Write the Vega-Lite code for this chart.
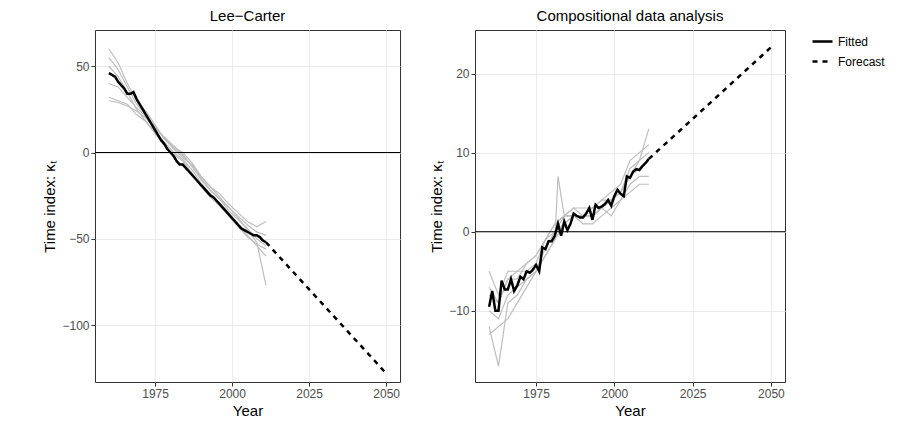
{
  "$schema": "https://vega.github.io/schema/vega-lite/v6.json",
  "padding": {"left": 42, "top": 8, "right": 0, "bottom": 5},
  "config": {
    "font": "Liberation Sans",
    "view": {"stroke": "#333333", "strokeWidth": 1},
    "axis": {"gridColor": "#ebebeb", "domain": false, "tickColor": "#333333", "tickSize": 4, "labelColor": "#4d4d4d", "labelFontSize": 12, "titleFontSize": 15, "titleFontWeight": "normal", "titleColor": "#000000"},
    "title": {"fontSize": 15, "fontWeight": "normal", "anchor": "middle", "offset": 6},
    "legend": {"labelFontSize": 12, "title": null, "symbolStrokeWidth": 2.5, "symbolSize": 400, "symbolType": "stroke", "symbolStrokeColor": "black", "offset": 25}
  },
  "datasets": {
    "fit": [
      {"p":"L","x":1960,"v":46,"t":"Fitted"},{"p":"L","x":1961,"v":45,"t":"Fitted"},{"p":"L","x":1962,"v":44,"t":"Fitted"},{"p":"L","x":1963,"v":41,"t":"Fitted"},{"p":"L","x":1964,"v":39,"t":"Fitted"},{"p":"L","x":1965,"v":37,"t":"Fitted"},{"p":"L","x":1966,"v":34,"t":"Fitted"},{"p":"L","x":1967,"v":34,"t":"Fitted"},{"p":"L","x":1968,"v":35,"t":"Fitted"},{"p":"L","x":1969,"v":31,"t":"Fitted"},{"p":"L","x":1970,"v":28,"t":"Fitted"},{"p":"L","x":1971,"v":25,"t":"Fitted"},{"p":"L","x":1972,"v":22,"t":"Fitted"},{"p":"L","x":1973,"v":19,"t":"Fitted"},{"p":"L","x":1974,"v":16,"t":"Fitted"},{"p":"L","x":1975,"v":13,"t":"Fitted"},{"p":"L","x":1976,"v":10,"t":"Fitted"},{"p":"L","x":1977,"v":7,"t":"Fitted"},{"p":"L","x":1978,"v":5,"t":"Fitted"},{"p":"L","x":1979,"v":2,"t":"Fitted"},{"p":"L","x":1980,"v":0,"t":"Fitted"},{"p":"L","x":1981,"v":-2,"t":"Fitted"},{"p":"L","x":1982,"v":-5,"t":"Fitted"},{"p":"L","x":1983,"v":-7,"t":"Fitted"},{"p":"L","x":1984,"v":-7,"t":"Fitted"},{"p":"L","x":1985,"v":-9,"t":"Fitted"},{"p":"L","x":1986,"v":-11,"t":"Fitted"},{"p":"L","x":1987,"v":-13,"t":"Fitted"},{"p":"L","x":1988,"v":-15,"t":"Fitted"},{"p":"L","x":1989,"v":-17,"t":"Fitted"},{"p":"L","x":1990,"v":-19,"t":"Fitted"},{"p":"L","x":1991,"v":-21,"t":"Fitted"},{"p":"L","x":1992,"v":-23,"t":"Fitted"},{"p":"L","x":1993,"v":-25,"t":"Fitted"},{"p":"L","x":1994,"v":-26,"t":"Fitted"},{"p":"L","x":1995,"v":-28,"t":"Fitted"},{"p":"L","x":1996,"v":-30,"t":"Fitted"},{"p":"L","x":1997,"v":-32,"t":"Fitted"},{"p":"L","x":1998,"v":-34,"t":"Fitted"},{"p":"L","x":1999,"v":-36,"t":"Fitted"},{"p":"L","x":2000,"v":-38,"t":"Fitted"},{"p":"L","x":2001,"v":-40,"t":"Fitted"},{"p":"L","x":2002,"v":-42,"t":"Fitted"},{"p":"L","x":2003,"v":-44,"t":"Fitted"},{"p":"L","x":2004,"v":-45,"t":"Fitted"},{"p":"L","x":2005,"v":-46,"t":"Fitted"},{"p":"L","x":2006,"v":-47,"t":"Fitted"},{"p":"L","x":2007,"v":-48,"t":"Fitted"},{"p":"L","x":2008,"v":-48,"t":"Fitted"},{"p":"L","x":2009,"v":-49,"t":"Fitted"},{"p":"L","x":2010,"v":-51,"t":"Fitted"},{"p":"L","x":2011,"v":-52,"t":"Fitted"},
      {"p":"L","x":2011,"v":-52,"t":"Forecast"},{"p":"L","x":2050,"v":-128,"t":"Forecast"},
      {"p":"R","x":1960,"v":-9.5,"t":"Fitted"},{"p":"R","x":1961,"v":-7.5,"t":"Fitted"},{"p":"R","x":1962,"v":-10,"t":"Fitted"},{"p":"R","x":1963,"v":-10,"t":"Fitted"},{"p":"R","x":1964,"v":-6.2,"t":"Fitted"},{"p":"R","x":1965,"v":-7.3,"t":"Fitted"},{"p":"R","x":1966,"v":-7.3,"t":"Fitted"},{"p":"R","x":1967,"v":-6,"t":"Fitted"},{"p":"R","x":1968,"v":-7.5,"t":"Fitted"},{"p":"R","x":1969,"v":-6.8,"t":"Fitted"},{"p":"R","x":1970,"v":-5.7,"t":"Fitted"},{"p":"R","x":1971,"v":-6,"t":"Fitted"},{"p":"R","x":1972,"v":-5,"t":"Fitted"},{"p":"R","x":1973,"v":-5.2,"t":"Fitted"},{"p":"R","x":1974,"v":-4.8,"t":"Fitted"},{"p":"R","x":1975,"v":-4.2,"t":"Fitted"},{"p":"R","x":1976,"v":-5,"t":"Fitted"},{"p":"R","x":1977,"v":-2,"t":"Fitted"},{"p":"R","x":1978,"v":-2.2,"t":"Fitted"},{"p":"R","x":1979,"v":-1.2,"t":"Fitted"},{"p":"R","x":1980,"v":-1.2,"t":"Fitted"},{"p":"R","x":1981,"v":-0.5,"t":"Fitted"},{"p":"R","x":1982,"v":1,"t":"Fitted"},{"p":"R","x":1983,"v":-0.5,"t":"Fitted"},{"p":"R","x":1984,"v":1.3,"t":"Fitted"},{"p":"R","x":1985,"v":0.2,"t":"Fitted"},{"p":"R","x":1986,"v":1,"t":"Fitted"},{"p":"R","x":1987,"v":2.3,"t":"Fitted"},{"p":"R","x":1988,"v":2,"t":"Fitted"},{"p":"R","x":1989,"v":1.8,"t":"Fitted"},{"p":"R","x":1990,"v":1.8,"t":"Fitted"},{"p":"R","x":1991,"v":2.3,"t":"Fitted"},{"p":"R","x":1992,"v":3,"t":"Fitted"},{"p":"R","x":1993,"v":1.5,"t":"Fitted"},{"p":"R","x":1994,"v":3.4,"t":"Fitted"},{"p":"R","x":1995,"v":3,"t":"Fitted"},{"p":"R","x":1996,"v":3.2,"t":"Fitted"},{"p":"R","x":1997,"v":3.5,"t":"Fitted"},{"p":"R","x":1998,"v":4,"t":"Fitted"},{"p":"R","x":1999,"v":3.3,"t":"Fitted"},{"p":"R","x":2000,"v":4.5,"t":"Fitted"},{"p":"R","x":2001,"v":5.3,"t":"Fitted"},{"p":"R","x":2002,"v":4.8,"t":"Fitted"},{"p":"R","x":2003,"v":4.5,"t":"Fitted"},{"p":"R","x":2004,"v":7,"t":"Fitted"},{"p":"R","x":2005,"v":6.8,"t":"Fitted"},{"p":"R","x":2006,"v":7.6,"t":"Fitted"},{"p":"R","x":2007,"v":7.9,"t":"Fitted"},{"p":"R","x":2008,"v":7.8,"t":"Fitted"},{"p":"R","x":2009,"v":8.3,"t":"Fitted"},{"p":"R","x":2010,"v":8.7,"t":"Fitted"},{"p":"R","x":2011,"v":9.2,"t":"Fitted"},
      {"p":"R","x":2011,"v":9.2,"t":"Forecast"},{"p":"R","x":2050,"v":23.3,"t":"Forecast"}
    ],
    "grey": [
      {"p":"L","s":1,"x":1960,"v":60},{"p":"L","s":1,"x":1963,"v":52},{"p":"L","s":1,"x":1966,"v":40},{"p":"L","s":1,"x":1969,"v":30},{"p":"L","s":1,"x":1972,"v":24},{"p":"L","s":1,"x":1975,"v":16},{"p":"L","s":1,"x":1978,"v":8},{"p":"L","s":1,"x":1981,"v":3},{"p":"L","s":1,"x":1984,"v":0},{"p":"L","s":1,"x":1987,"v":-6},{"p":"L","s":1,"x":1990,"v":-14},{"p":"L","s":1,"x":1993,"v":-20},{"p":"L","s":1,"x":1996,"v":-24},{"p":"L","s":1,"x":1999,"v":-30},{"p":"L","s":1,"x":2002,"v":-35},{"p":"L","s":1,"x":2005,"v":-40},{"p":"L","s":1,"x":2008,"v":-43},{"p":"L","s":1,"x":2011,"v":-40},
      {"p":"L","s":2,"x":1960,"v":32},{"p":"L","s":2,"x":1963,"v":30},{"p":"L","s":2,"x":1966,"v":28},{"p":"L","s":2,"x":1969,"v":22},{"p":"L","s":2,"x":1972,"v":18},{"p":"L","s":2,"x":1975,"v":12},{"p":"L","s":2,"x":1978,"v":6},{"p":"L","s":2,"x":1981,"v":0},{"p":"L","s":2,"x":1984,"v":-4},{"p":"L","s":2,"x":1987,"v":-10},{"p":"L","s":2,"x":1990,"v":-18},{"p":"L","s":2,"x":1993,"v":-24},{"p":"L","s":2,"x":1996,"v":-30},{"p":"L","s":2,"x":1999,"v":-36},{"p":"L","s":2,"x":2002,"v":-42},{"p":"L","s":2,"x":2005,"v":-48},{"p":"L","s":2,"x":2008,"v":-54},{"p":"L","s":2,"x":2011,"v":-60},
      {"p":"L","s":3,"x":1960,"v":55},{"p":"L","s":3,"x":1963,"v":48},{"p":"L","s":3,"x":1966,"v":38},{"p":"L","s":3,"x":1969,"v":28},{"p":"L","s":3,"x":1972,"v":22},{"p":"L","s":3,"x":1975,"v":14},{"p":"L","s":3,"x":1978,"v":9},{"p":"L","s":3,"x":1981,"v":4},{"p":"L","s":3,"x":1984,"v":-1},{"p":"L","s":3,"x":1987,"v":-8},{"p":"L","s":3,"x":1990,"v":-15},{"p":"L","s":3,"x":1993,"v":-22},{"p":"L","s":3,"x":1996,"v":-27},{"p":"L","s":3,"x":1999,"v":-32},{"p":"L","s":3,"x":2002,"v":-38},{"p":"L","s":3,"x":2005,"v":-45},{"p":"L","s":3,"x":2008,"v":-52},{"p":"L","s":3,"x":2011,"v":-77},
      {"p":"L","s":4,"x":1960,"v":30},{"p":"L","s":4,"x":1963,"v":29},{"p":"L","s":4,"x":1966,"v":27},{"p":"L","s":4,"x":1969,"v":24},{"p":"L","s":4,"x":1972,"v":20},{"p":"L","s":4,"x":1975,"v":15},{"p":"L","s":4,"x":1978,"v":8},{"p":"L","s":4,"x":1981,"v":2},{"p":"L","s":4,"x":1984,"v":-3},{"p":"L","s":4,"x":1987,"v":-7},{"p":"L","s":4,"x":1990,"v":-14},{"p":"L","s":4,"x":1993,"v":-20},{"p":"L","s":4,"x":1996,"v":-26},{"p":"L","s":4,"x":1999,"v":-32},{"p":"L","s":4,"x":2002,"v":-37},{"p":"L","s":4,"x":2005,"v":-42},{"p":"L","s":4,"x":2008,"v":-46},{"p":"L","s":4,"x":2011,"v":-48},
      {"p":"L","s":5,"x":1960,"v":50},{"p":"L","s":5,"x":1963,"v":44},{"p":"L","s":5,"x":1966,"v":35},{"p":"L","s":5,"x":1969,"v":25},{"p":"L","s":5,"x":1972,"v":18},{"p":"L","s":5,"x":1975,"v":11},{"p":"L","s":5,"x":1978,"v":4},{"p":"L","s":5,"x":1981,"v":-1},{"p":"L","s":5,"x":1984,"v":-5},{"p":"L","s":5,"x":1987,"v":-12},{"p":"L","s":5,"x":1990,"v":-20},{"p":"L","s":5,"x":1993,"v":-26},{"p":"L","s":5,"x":1996,"v":-31},{"p":"L","s":5,"x":1999,"v":-37},{"p":"L","s":5,"x":2002,"v":-43},{"p":"L","s":5,"x":2005,"v":-49},{"p":"L","s":5,"x":2008,"v":-53},{"p":"L","s":5,"x":2011,"v":-56},
      {"p":"L","s":6,"x":1960,"v":40},{"p":"L","s":6,"x":1963,"v":38},{"p":"L","s":6,"x":1966,"v":32},{"p":"L","s":6,"x":1969,"v":26},{"p":"L","s":6,"x":1972,"v":21},{"p":"L","s":6,"x":1975,"v":15},{"p":"L","s":6,"x":1978,"v":8},{"p":"L","s":6,"x":1981,"v":3},{"p":"L","s":6,"x":1984,"v":-2},{"p":"L","s":6,"x":1987,"v":-8},{"p":"L","s":6,"x":1990,"v":-16},{"p":"L","s":6,"x":1993,"v":-22},{"p":"L","s":6,"x":1996,"v":-27},{"p":"L","s":6,"x":1999,"v":-34},{"p":"L","s":6,"x":2002,"v":-39},{"p":"L","s":6,"x":2005,"v":-44},{"p":"L","s":6,"x":2008,"v":-50},{"p":"L","s":6,"x":2011,"v":-54},
      {"p":"R","s":1,"x":1960,"v":-12},{"p":"R","s":1,"x":1963,"v":-17},{"p":"R","s":1,"x":1966,"v":-9},{"p":"R","s":1,"x":1969,"v":-8},{"p":"R","s":1,"x":1972,"v":-6},{"p":"R","s":1,"x":1975,"v":-5},{"p":"R","s":1,"x":1978,"v":-2},{"p":"R","s":1,"x":1981,"v":0},{"p":"R","s":1,"x":1984,"v":2},{"p":"R","s":1,"x":1987,"v":3},{"p":"R","s":1,"x":1990,"v":2},{"p":"R","s":1,"x":1993,"v":2},{"p":"R","s":1,"x":1996,"v":3},{"p":"R","s":1,"x":1999,"v":4},{"p":"R","s":1,"x":2002,"v":5},{"p":"R","s":1,"x":2005,"v":7},{"p":"R","s":1,"x":2008,"v":9},{"p":"R","s":1,"x":2011,"v":13},
      {"p":"R","s":2,"x":1960,"v":-5},{"p":"R","s":2,"x":1963,"v":-8},{"p":"R","s":2,"x":1966,"v":-5},{"p":"R","s":2,"x":1969,"v":-5},{"p":"R","s":2,"x":1972,"v":-4},{"p":"R","s":2,"x":1975,"v":-3},{"p":"R","s":2,"x":1978,"v":-1},{"p":"R","s":2,"x":1981,"v":1},{"p":"R","s":2,"x":1984,"v":2},{"p":"R","s":2,"x":1987,"v":2},{"p":"R","s":2,"x":1990,"v":2},{"p":"R","s":2,"x":1993,"v":3},{"p":"R","s":2,"x":1996,"v":4},{"p":"R","s":2,"x":1999,"v":4},{"p":"R","s":2,"x":2002,"v":5},{"p":"R","s":2,"x":2005,"v":8},{"p":"R","s":2,"x":2008,"v":9},{"p":"R","s":2,"x":2011,"v":10},
      {"p":"R","s":3,"x":1960,"v":-13},{"p":"R","s":3,"x":1963,"v":-12},{"p":"R","s":3,"x":1966,"v":-11},{"p":"R","s":3,"x":1969,"v":-9},{"p":"R","s":3,"x":1972,"v":-7},{"p":"R","s":3,"x":1975,"v":-5},{"p":"R","s":3,"x":1978,"v":-3},{"p":"R","s":3,"x":1981,"v":-1},{"p":"R","s":3,"x":1982,"v":7},{"p":"R","s":3,"x":1984,"v":2},{"p":"R","s":3,"x":1987,"v":2},{"p":"R","s":3,"x":1990,"v":1},{"p":"R","s":3,"x":1993,"v":1},{"p":"R","s":3,"x":1996,"v":2},{"p":"R","s":3,"x":1999,"v":3},{"p":"R","s":3,"x":2002,"v":4},{"p":"R","s":3,"x":2005,"v":6},{"p":"R","s":3,"x":2008,"v":7},{"p":"R","s":3,"x":2011,"v":7},
      {"p":"R","s":4,"x":1960,"v":-7},{"p":"R","s":4,"x":1963,"v":-9},{"p":"R","s":4,"x":1966,"v":-6},{"p":"R","s":4,"x":1969,"v":-6},{"p":"R","s":4,"x":1972,"v":-4},{"p":"R","s":4,"x":1975,"v":-3},{"p":"R","s":4,"x":1978,"v":-1},{"p":"R","s":4,"x":1981,"v":0},{"p":"R","s":4,"x":1984,"v":1},{"p":"R","s":4,"x":1987,"v":2},{"p":"R","s":4,"x":1990,"v":2},{"p":"R","s":4,"x":1993,"v":2},{"p":"R","s":4,"x":1996,"v":3},{"p":"R","s":4,"x":1999,"v":2},{"p":"R","s":4,"x":2002,"v":4},{"p":"R","s":4,"x":2005,"v":5},{"p":"R","s":4,"x":2008,"v":6},{"p":"R","s":4,"x":2011,"v":6},
      {"p":"R","s":5,"x":1960,"v":-10},{"p":"R","s":5,"x":1963,"v":-11},{"p":"R","s":5,"x":1966,"v":-8},{"p":"R","s":5,"x":1969,"v":-7},{"p":"R","s":5,"x":1972,"v":-6},{"p":"R","s":5,"x":1975,"v":-5},{"p":"R","s":5,"x":1978,"v":-3},{"p":"R","s":5,"x":1981,"v":-1},{"p":"R","s":5,"x":1984,"v":1},{"p":"R","s":5,"x":1987,"v":2},{"p":"R","s":5,"x":1990,"v":2},{"p":"R","s":5,"x":1993,"v":2},{"p":"R","s":5,"x":1996,"v":3},{"p":"R","s":5,"x":1999,"v":4},{"p":"R","s":5,"x":2002,"v":5},{"p":"R","s":5,"x":2005,"v":7},{"p":"R","s":5,"x":2008,"v":8},{"p":"R","s":5,"x":2011,"v":9},
      {"p":"R","s":6,"x":1960,"v":-8},{"p":"R","s":6,"x":1963,"v":-9},{"p":"R","s":6,"x":1966,"v":-6},{"p":"R","s":6,"x":1969,"v":-5},{"p":"R","s":6,"x":1972,"v":-5},{"p":"R","s":6,"x":1975,"v":-4},{"p":"R","s":6,"x":1978,"v":-1},{"p":"R","s":6,"x":1981,"v":1},{"p":"R","s":6,"x":1984,"v":2},{"p":"R","s":6,"x":1987,"v":3},{"p":"R","s":6,"x":1990,"v":3},{"p":"R","s":6,"x":1993,"v":3},{"p":"R","s":6,"x":1996,"v":4},{"p":"R","s":6,"x":1999,"v":5},{"p":"R","s":6,"x":2002,"v":6},{"p":"R","s":6,"x":2005,"v":9},{"p":"R","s":6,"x":2008,"v":10},{"p":"R","s":6,"x":2011,"v":11}
    ],
    "zero": [{"v": 0}]
  },
  "hconcat": [
    {
      "title": "Lee\u2212Carter",
      "width": 305, "height": 352,
      "layer": [
        {
          "data": {"name": "grey"},
          "transform": [{"filter": "datum.p == 'L'"}],
          "mark": {"type": "line", "color": "#bebebe", "strokeWidth": 1.2},
          "encoding": {
            "x": {"field": "x", "type": "quantitative", "scale": {"domain": [1955.5, 2054.5], "nice": false}, "axis": {"values": [1975, 2000, 2025, 2050], "format": "d"}, "title": "Year"},
            "y": {"field": "v", "type": "quantitative", "scale": {"domain": [-133, 71], "nice": false}, "axis": {"values": [-100, -50, 0, 50], "format": "d"}, "title": "Time index:  \u03ba\u209c"},
            "detail": {"field": "s"}
          }
        },
        {
          "data": {"name": "zero"},
          "mark": {"type": "rule", "color": "black", "strokeWidth": 1},
          "encoding": {"y": {"field": "v", "type": "quantitative"}}
        },
        {
          "data": {"name": "fit"},
          "transform": [{"filter": "datum.p == 'L'"}],
          "mark": {"type": "line", "color": "black", "strokeWidth": 2.5},
          "encoding": {
            "x": {"field": "x", "type": "quantitative"},
            "y": {"field": "v", "type": "quantitative"},
            "strokeDash": {"field": "t", "type": "nominal", "scale": {"domain": ["Fitted", "Forecast"], "range": [[1, 0], [5, 5]]}}
          }
        }
      ]
    },
    {
      "title": "Compositional data analysis",
      "width": 310, "height": 352,
      "layer": [
        {
          "data": {"name": "grey"},
          "transform": [{"filter": "datum.p == 'R'"}],
          "mark": {"type": "line", "color": "#bebebe", "strokeWidth": 1.2},
          "encoding": {
            "x": {"field": "x", "type": "quantitative", "scale": {"domain": [1955.5, 2054.5], "nice": false}, "axis": {"values": [1975, 2000, 2025, 2050], "format": "d"}, "title": "Year"},
            "y": {"field": "v", "type": "quantitative", "scale": {"domain": [-19, 25.5], "nice": false}, "axis": {"values": [-10, 0, 10, 20], "format": "d"}, "title": "Time index:  \u03ba\u209c"},
            "detail": {"field": "s"}
          }
        },
        {
          "data": {"name": "zero"},
          "mark": {"type": "rule", "color": "black", "strokeWidth": 1},
          "encoding": {"y": {"field": "v", "type": "quantitative"}}
        },
        {
          "data": {"name": "fit"},
          "transform": [{"filter": "datum.p == 'R'"}],
          "mark": {"type": "line", "color": "black", "strokeWidth": 2.5},
          "encoding": {
            "x": {"field": "x", "type": "quantitative"},
            "y": {"field": "v", "type": "quantitative"},
            "strokeDash": {"field": "t", "type": "nominal", "scale": {"domain": ["Fitted", "Forecast"], "range": [[1, 0], [5, 5]]}}
          }
        }
      ]
    }
  ],
  "spacing": 28
}
